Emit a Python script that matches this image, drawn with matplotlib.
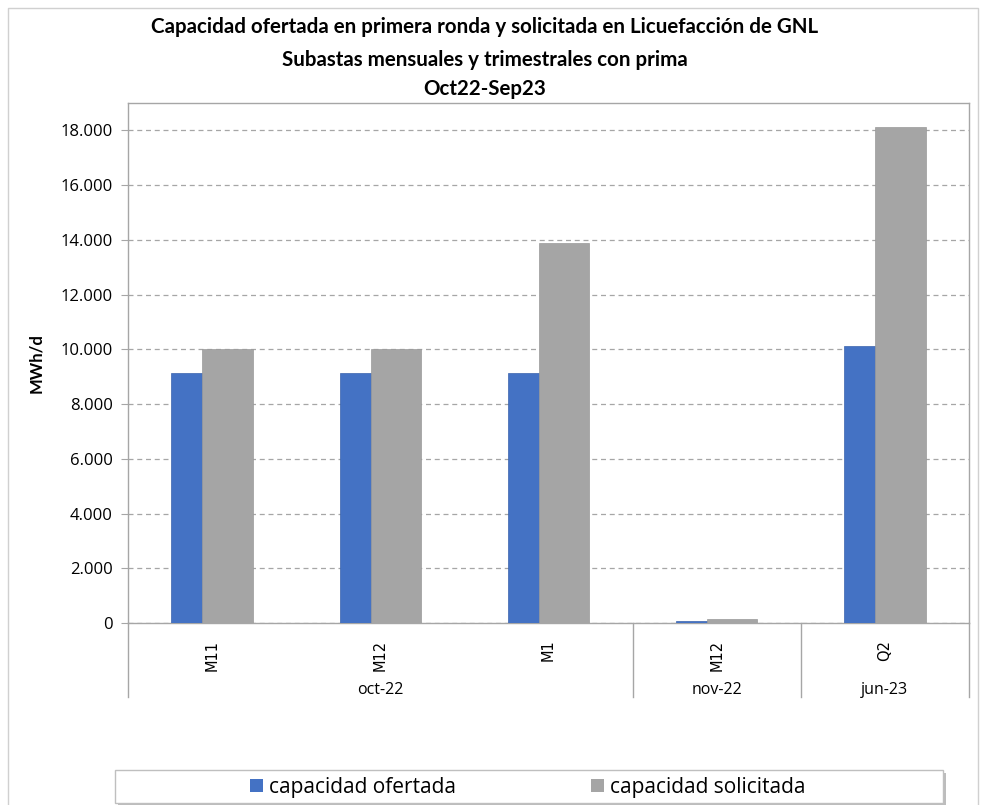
import matplotlib
matplotlib.use("Agg")
import matplotlib.pyplot as plt
from matplotlib.patches import Rectangle, Patch
from matplotlib.lines import Line2D
import matplotlib.transforms as mtransforms
import numpy as np

plt.rcParams['font.family'] = ['Lato', 'DejaVu Sans']

categories = ["M11", "M12", "M1", "M12", "Q2"]
groups = ["oct-22", "nov-22", "jun-23"]
group_sizes = [3, 1, 1]
ofertada = [9120, 9120, 9120, 90, 10130]
solicitada = [10000, 10000, 13880, 140, 18120]
yticks = list(range(0, 18001, 2000))
ytick_labels = ["0", "2.000", "4.000", "6.000", "8.000", "10.000", "12.000", "14.000", "16.000", "18.000"]
series_names = ["capacidad ofertada", "capacidad solicitada"]
title_lines = ["Capacidad ofertada en primera ronda y solicitada en Licuefacción de GNL",
               "Subastas mensuales y trimestrales con prima",
               "Oct22-Sep23"]

W, H = 986, 805
fig = plt.figure(figsize=(W/100, H/100), dpi=100)
ax = fig.add_axes([128/W, 1-623/H, (969-128)/W, (623-103)/H])

blue = "#4472C4"
grey = "#A5A5A5"
x = np.arange(len(categories))
w = 0.30
off = 0.092
ax.bar(x - off, ofertada, width=w, color=blue, edgecolor="#3A63AD", linewidth=0.5, zorder=3)
ax.bar(x + off, solicitada, width=w, color=grey, edgecolor="#9A9A9A", linewidth=0.5, zorder=4)

ax.set_xlim(-0.5, len(categories) - 0.5)
ax.set_ylim(0, 19000)
ax.set_yticks(yticks)
ax.set_yticklabels(ytick_labels, fontsize=12, family=["Open Sans", "DejaVu Sans"])
ax.yaxis.grid(True, linestyle=(0, (4, 3)), color="#A6A6A6", linewidth=0.9, zorder=0)
ax.tick_params(axis="y", length=5, color="#A6A6A6", pad=6)
ax.set_xticks(x)
ax.set_xticklabels(categories, rotation=90, fontsize=10.5, family="DejaVu Sans")
ax.tick_params(axis="x", length=0, pad=12)
for s in ax.spines.values():
    s.set_color("#A6A6A6")
    s.set_linewidth(1.0)
ax.set_ylabel("MWh/d", fontsize=12, fontweight="bold", labelpad=12)

# category group separators and labels
trans = mtransforms.blended_transform_factory(ax.transData, ax.transAxes)
ybot = -(697 - 623) / (623 - 103)
bounds = [-0.5]
for s in group_sizes:
    bounds.append(bounds[-1] + s)
for b in bounds:
    ax.add_line(Line2D([b, b], [0, ybot], transform=trans, color="#A6A6A6", lw=1.0, clip_on=False))
start = -0.5
for g, s in zip(groups, group_sizes):
    c = start + s / 2
    ax.text(c, -(690 - 623) / (623 - 103), g, transform=trans, ha="center", va="center",
            fontsize=11.5, family=["Open Sans", "DejaVu Sans"])
    start += s

for line, yy in zip(title_lines, [27, 60, 89]):
    fig.text(485/W, 1-yy/H, line, ha="center", va="center", fontsize=14.8, fontweight="bold")

# outer chart border
fig.add_artist(Line2D([8/W, 8/W, 978/W, 978/W], [0, 1-8/H, 1-8/H, 0], transform=fig.transFigure,
                      color="#D0D0D0", lw=1.0))

# legend box with shadow
fig.add_artist(Rectangle((118/W, 1-806/H), (943-115)/W, 33/H, transform=fig.transFigure,
                         facecolor="#BDBDBD", edgecolor="none", zorder=1))
fig.add_artist(Rectangle((115/W, 1-803/H), (943-115)/W, 33/H, transform=fig.transFigure,
                         facecolor="white", edgecolor="#BFBFBF", lw=1.0, zorder=2))
handles = [Patch(facecolor=blue), Patch(facecolor=grey)]
leg = fig.legend(handles, series_names, loc="center", bbox_to_anchor=(528/W, 1-787/H), ncol=2,
                 frameon=False, handlelength=0.6, handleheight=0.6,
                 handletextpad=0.3, columnspacing=6.5, prop={"family": ["Open Sans", "DejaVu Sans"], "size": 15})
leg.set_zorder(3)

fig.savefig("out.png", dpi=100)
